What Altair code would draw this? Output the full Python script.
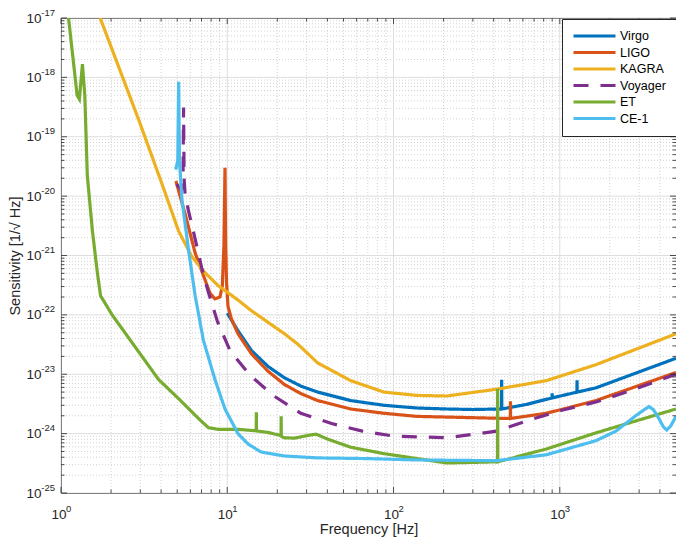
import altair as alt
import pandas as pd

W, H = 615, 475
FONT = "Liberation Sans"
INK = "#262626"

SERIES = ["Virgo", "LIGO", "KAGRA", "Voyager", "ET", "CE-1"]
COLORS = ["#0072BD", "#D95319", "#EDB120", "#7E2F8E", "#77AC30", "#4DBEEE"]
DASHES = [[1, 0], [1, 0], [1, 0], [15, 12], [1, 0], [1, 0]]

VIRGO_F = [10.0, 11.6, 14.0, 17.6, 22.1, 27.8, 35.0, 55.3, 87.6, 138.6, 209.0, 300.0,
           446.0, 447.0, 448.0, 630.0, 899.0, 900.0, 901.0, 1268.0, 1270.0, 1272.0, 1650.0, 5000.0]
VIRGO_H = [1.07e-22, 5.4e-23, 2.5e-23, 1.35e-23, 8.7e-24, 6.3e-24, 5.0e-24, 3.6e-24, 3.0e-24, 2.7e-24, 2.6e-24, 2.55e-24,
           2.6e-24, 8.1e-24, 2.6e-24, 3.1e-24, 4.0e-24, 4.8e-24, 4.0e-24, 5.0e-24, 7.9e-24, 5.0e-24, 5.9e-24, 1.86e-23]

LIGO_F = [4.91, 5.59, 6.41, 7.19, 7.88, 8.43, 9.04, 9.34, 9.55, 9.69, 9.78, 9.9, 10.1, 10.6, 11.6, 14.0, 17.6,
          22.1, 27.8, 35.0, 55.3, 87.6, 138.6, 209.0, 480.0, 504.0, 505.0, 506.0, 829.0, 1650.0, 5000.0]
LIGO_H = [1.8e-20, 4.9e-21, 1.1e-21, 4.6e-22, 2.3e-22, 1.86e-22, 2.0e-22, 3.1e-22, 1.5e-21, 3.0e-20, 1.5e-21, 3.5e-22,
          1.4e-22, 8.5e-23, 4.8e-23, 2.2e-23, 1.12e-23, 6.7e-24, 4.7e-24, 3.6e-24, 2.6e-24, 2.2e-24, 1.95e-24, 1.9e-24,
          1.8e-24, 1.8e-24, 3.5e-24, 1.8e-24, 2.2e-24, 3.6e-24, 1.07e-23]

KAGRA_F = [1.72, 2.94, 4.14, 5.09, 6.12, 7.36, 8.83, 11.6, 14.0, 22.1, 26.6, 35.0, 55.3, 87.6, 138.6, 209.0,
           417.0, 829.0, 1650.0, 5000.0]
KAGRA_H = [1.0e-17, 1.9e-19, 1.35e-20, 2.6e-21, 9.6e-22, 5.1e-22, 3.1e-22, 1.78e-22, 1.17e-22, 4.8e-23, 3.2e-23,
           1.55e-23, 7.8e-24, 5.0e-24, 4.4e-24, 4.3e-24, 5.6e-24, 7.8e-24, 1.45e-23, 4.8e-23]

VOY_F = [4.96, 5.3, 5.42, 5.46, 5.5, 5.58, 5.85, 6.31, 7.02, 7.7, 8.72, 10.4, 13.7, 19.1, 27.7, 42.4, 65.0, 100.0,
         209.0, 417.0, 659.0, 1044.0, 1650.0, 2612.0, 5000.0]
VOY_H = [1.6e-20, 1.25e-20, 2.0e-20, 3.1e-19, 2.0e-20, 1.05e-20, 5.6e-21, 2.3e-21, 6.2e-22, 2.4e-22, 7.8e-23, 2.5e-23,
         9.6e-24, 4.3e-24, 2.2e-24, 1.48e-24, 1.1e-24, 9.1e-25, 8.5e-25, 1.1e-24, 1.7e-24, 2.5e-24, 3.4e-24, 5.2e-24,
         1.0e-23]

ET_F = [1.11, 1.25, 1.29, 1.346, 1.39, 1.44, 1.545, 1.655, 1.73, 2.03, 2.62, 3.87, 5.09, 6.71, 7.7, 8.83, 11.6,
        14.6, 14.93, 14.96, 14.99, 17.5, 21.0, 21.07, 21.1, 21.13, 22.1, 25.4, 30.5, 34.2, 40.1, 55.3, 87.6, 138.6,
        209.0, 420.0, 422.0, 423.0, 424.0, 829.0, 1650.0, 5000.0]
ET_H = [1.0e-17, 5.0e-19, 4.3e-19, 1.67e-18, 5.1e-19, 2.2e-20, 2.6e-21, 5.1e-22, 2.1e-22, 1.0e-22, 3.7e-23, 8.1e-24,
        3.9e-24, 1.8e-24, 1.26e-24, 1.18e-24, 1.18e-24, 1.12e-24, 1.11e-24, 2.3e-24, 1.11e-24, 1.05e-24, 9.3e-25,
        9.3e-25, 1.96e-24, 9.0e-25, 8.5e-25, 8.4e-25, 9.3e-25, 9.8e-25, 8.1e-25, 5.9e-25, 4.6e-25, 3.8e-25, 3.2e-25,
        3.35e-25, 3.35e-25, 5.7e-24, 3.35e-25, 5.5e-25, 1.03e-24, 2.6e-24]

CE_F = [4.9, 5.04, 5.1, 5.16, 5.33, 5.85, 6.41, 7.19, 8.44, 9.69, 11.6, 13.4, 16.0, 22.1, 35.0, 69.6, 138.6, 417.0,
        829.0, 1650.0, 2174.0, 2864.0, 3200.0, 3437.0, 3650.0, 3945.0, 4200.0, 4400.0, 4650.0, 5000.0]
CE_H = [2.8e-20, 4.0e-20, 8.4e-19, 4.0e-20, 9.1e-21, 1.23e-21, 2.1e-22, 3.7e-23, 8.1e-24, 2.6e-24, 1.0e-24, 6.6e-25,
        4.9e-25, 4.2e-25, 3.9e-25, 3.8e-25, 3.6e-25, 3.5e-25, 4.4e-25, 7.6e-25, 1.1e-24, 2.0e-24, 2.5e-24, 2.85e-24,
        2.55e-24, 1.8e-24, 1.3e-24, 1.15e-24, 1.35e-24, 1.96e-24]

# tick labels: base "10" plus a raised exponent
X_EXP = [0, 1, 2, 3]
X_SUP = ["0", "1", "2", "3"]
Y_EXP = [-25, -24, -23, -22, -21, -20, -19, -18, -17]
Y_SUP = ["-25", "-24", "-23", "-22", "-21", "-20", "-19", "-18", "-17"]
MINOR_MULT = [2, 3, 4, 5, 6, 7, 8, 9]

X_MAJOR = [10.0 ** e for e in X_EXP]
X_MINOR = [m * 10.0 ** e for e in X_EXP for m in MINOR_MULT if m * 10.0 ** e < 5000]
Y_MAJOR = [10.0 ** e for e in Y_EXP]
Y_MINOR = [m * 10.0 ** e for e in Y_EXP[:-1] for m in MINOR_MULT]

rows = []
for name, fs, hs in zip(SERIES, [VIRGO_F, LIGO_F, KAGRA_F, VOY_F, ET_F, CE_F],
                        [VIRGO_H, LIGO_H, KAGRA_H, VOY_H, ET_H, CE_H]):
    for i, (f, h) in enumerate(zip(fs, hs)):
        rows.append({"series": name, "f": f, "h": h, "i": i})
df = pd.DataFrame(rows)

LABEL_SIZE = 13.5
SUP_SIZE = 9.5

xscale = alt.Scale(type="log", domain=[1, 5000], nice=False)
yscale = alt.Scale(type="log", domain=[1e-25, 1e-17], nice=False)
cscale = alt.Scale(domain=SERIES, range=COLORS)
dscale = alt.Scale(domain=SERIES, range=DASHES)

x_axis = alt.Axis(values=X_MAJOR, labelExpr="'10'", title="Frequency [Hz]",
                  labelFlush=False, labelOverlap=False, labelPadding=25, labelBaseline="alphabetic",
                  labelOffset=-2.6, titleX=W / 2, titleY=36, titleBaseline="middle", titleAlign="center")
y_axis = alt.Axis(values=Y_MAJOR, labelExpr="'10'", title="Sensitivity [1/√ Hz]",
                  labelFlush=False, labelOverlap=False, labelPadding=20, labelBaseline="middle",
                  titleX=-45.5, titleY=H / 2, titleAngle=270, titleBaseline="middle", titleAlign="center")

legend = alt.Legend(orient="none", legendX=501, legendY=1, title=None, symbolType="stroke",
                    symbolStrokeWidth=3, symbolSize=1764, labelFont=FONT, labelFontSize=12.5,
                    labelColor="#000000", labelOffset=3, padding=10, fillColor="white",
                    strokeColor=INK, clipHeight=14, rowPadding=2.5)

XF = lambda field: alt.X(field, scale=xscale, axis=x_axis)
YF = lambda field: alt.Y(field, scale=yscale, axis=y_axis)


def vgrid(vals, **style):
    return alt.Chart(pd.DataFrame({"v": vals})).mark_rule(**style).encode(x=XF("v:Q"))


def hgrid(vals, **style):
    return alt.Chart(pd.DataFrame({"v": vals})).mark_rule(**style).encode(y=YF("v:Q"))


minor_style = dict(color="#c8c8c8", strokeDash=[1, 2], strokeWidth=0.8)
major_style = dict(color="#dedede", strokeWidth=1)

layers = [vgrid(X_MINOR, **minor_style), hgrid(Y_MINOR, **minor_style),
          vgrid(X_MAJOR, **major_style), hgrid(Y_MAJOR, **major_style)]

for name in SERIES:
    layers.append(
        alt.Chart(df).transform_filter(alt.datum.series == name).mark_line(
            strokeWidth=3.2, clip=True, strokeCap="butt").encode(
            x=XF("f:Q"),
            y=YF("h:Q"),
            color=alt.Color("series:N", scale=cscale, legend=legend),
            strokeDash=alt.StrokeDash("series:N", scale=dscale, legend=legend),
            order=alt.Order("i:Q"),
        )
    )


def ticks_x(vals, length):
    d = pd.DataFrame({"v": vals})
    base = alt.Chart(d).mark_rule(color=INK, strokeWidth=0.8)
    return [base.encode(x=XF("v:Q"), y=alt.value(H), y2=alt.value(H - length)),
            base.encode(x=XF("v:Q"), y=alt.value(0), y2=alt.value(length))]


def ticks_y(vals, length):
    d = pd.DataFrame({"v": vals})
    base = alt.Chart(d).mark_rule(color=INK, strokeWidth=0.8)
    return [base.encode(y=YF("v:Q"), x=alt.value(0), x2=alt.value(length)),
            base.encode(y=YF("v:Q"), x=alt.value(W), x2=alt.value(W - length))]


layers += ticks_x(X_MAJOR, 6) + ticks_x(X_MINOR, 3.5) + ticks_y(Y_MAJOR, 6) + ticks_y(Y_MINOR, 3.5)

# raised exponents of the tick labels
sup_x = alt.Chart(pd.DataFrame({"v": X_MAJOR, "t": X_SUP})).mark_text(
    align="left", baseline="alphabetic", dx=4.9, dy=19, font=FONT, fontSize=SUP_SIZE, color=INK
).encode(x=XF("v:Q"), y=alt.value(H), text="t:N")
sup_y = alt.Chart(pd.DataFrame({"v": Y_MAJOR, "t": Y_SUP})).mark_text(
    align="right", baseline="middle", dy=-5.5, font=FONT, fontSize=SUP_SIZE, color=INK
).encode(y=YF("v:Q"), x=alt.value(-6), text="t:N")
layers += [sup_x, sup_y]

chart = alt.layer(*layers).properties(
    width=W, height=H, autosize=alt.AutoSizeParams(type="none"),
    padding={"left": 53, "top": 10, "right": 0, "bottom": 44},
    background="white",
).configure_view(stroke=INK, strokeWidth=1).configure_axis(
    domain=False, ticks=False, tickSize=0, grid=False, labelFont=FONT, labelFontSize=LABEL_SIZE,
    labelColor=INK, titleFont=FONT, titleFontSize=14.5, titleColor=INK, titleFontWeight="normal",
)

chart.save("out.html", embed_options={"renderer": "svg", "actions": False})
